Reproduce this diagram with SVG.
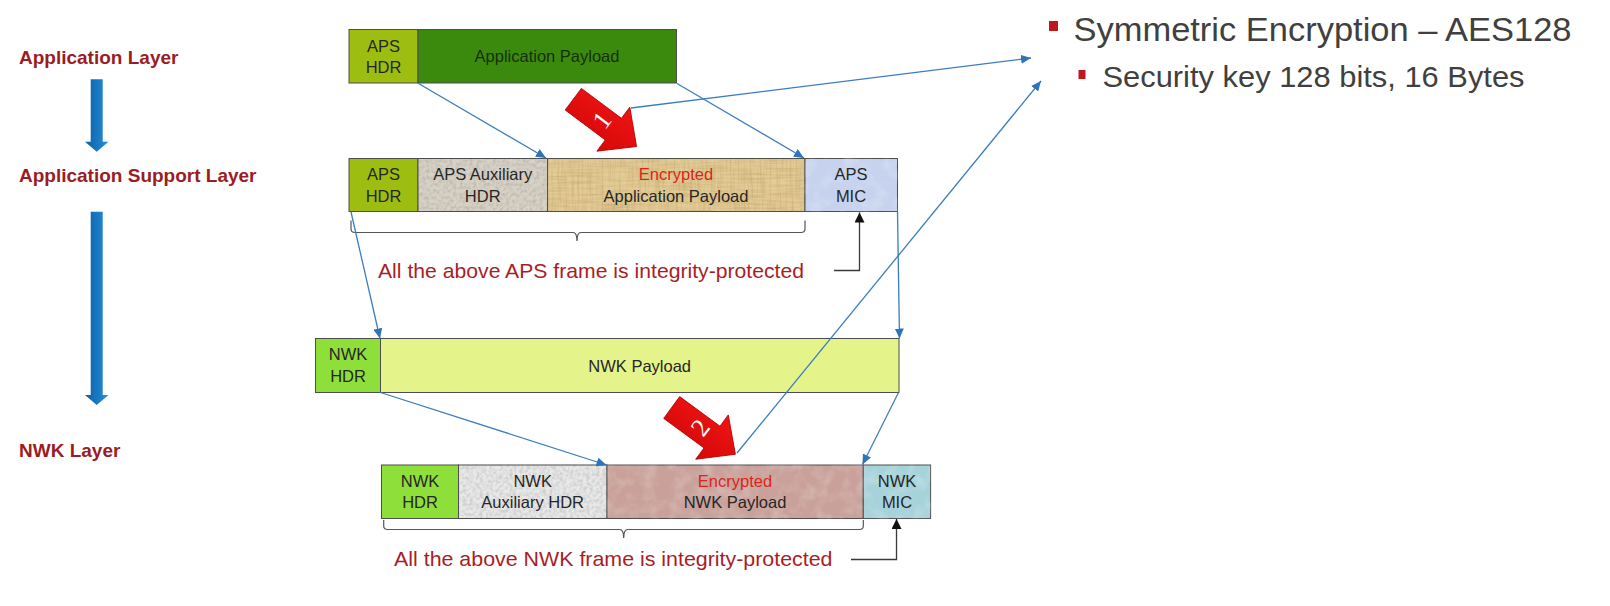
<svg xmlns="http://www.w3.org/2000/svg" width="1610" height="606" viewBox="0 0 1610 606">
<defs>
<style>
.blk{stroke:#4d4d4d;stroke-width:1}
.t{font-family:"Liberation Sans",Arial,sans-serif;font-size:16.5px;fill:#262626;text-anchor:middle}
.enc{fill:#d9261c}
.layer{font-family:"Liberation Sans",Arial,sans-serif;font-size:19px;font-weight:bold;fill:#9b1c22}
.integ{font-family:"Liberation Sans",Arial,sans-serif;font-size:21px;fill:#a81e26}
.bul{font-family:"Liberation Sans",Arial,sans-serif;fill:#404040}
.conn{fill:none;stroke:#3b7dbf;stroke-width:1.3;marker-end:url(#bh)}
.blkarrow{fill:none;stroke:#3a3a3a;stroke-width:1.3;marker-end:url(#kh)}
.brace{fill:none;stroke:#555;stroke-width:1.2}
.redarrow{fill:url(#redg);stroke:#b50000;stroke-width:0.8}
.num{font-family:"Liberation Serif","Times New Roman",serif;font-size:26px;fill:#ffffff;text-anchor:middle}
</style>
<marker id="bh" markerUnits="userSpaceOnUse" markerWidth="11" markerHeight="9" refX="10" refY="4.5" orient="auto">
<path d="M0,0 L10,4.5 L0,9 Z" fill="#2e74b8"/>
</marker>
<marker id="kh" markerUnits="userSpaceOnUse" markerWidth="11" markerHeight="10" refX="10" refY="5" orient="auto">
<path d="M0,0 L10,5 L0,10 Z" fill="#111"/>
</marker>
<linearGradient id="blueg" x1="0" y1="0" x2="1" y2="0">
<stop offset="0" stop-color="#0c5ea6"/>
<stop offset="1" stop-color="#2590da"/>
</linearGradient>
<linearGradient id="redg" x1="0" y1="0" x2="0" y2="1">
<stop offset="0" stop-color="#f01414"/>
<stop offset="1" stop-color="#d40808"/>
</linearGradient>
<filter id="grain" color-interpolation-filters="sRGB">
<feTurbulence type="fractalNoise" baseFrequency="0.3" numOctaves="2" seed="4" result="n"/>
<feColorMatrix in="n" type="matrix" values="0 0 0 0 0.35  0 0 0 0 0.35  0 0 0 0 0.35  0.45 0 0 0 -0.17" result="d"/>
<feComposite in="d" in2="SourceAlpha" operator="in" result="dm"/>
<feMerge><feMergeNode in="SourceGraphic"/><feMergeNode in="dm"/></feMerge>
</filter>
<filter id="fiber" color-interpolation-filters="sRGB">
<feTurbulence type="fractalNoise" baseFrequency="0.5 0.03" numOctaves="2" seed="7" result="n1"/>
<feTurbulence type="fractalNoise" baseFrequency="0.03 0.5" numOctaves="2" seed="9" result="n2"/>
<feColorMatrix in="n1" type="matrix" values="0 0 0 0 0.5  0 0 0 0 0.38  0 0 0 0 0.15  0.38 0 0 0 -0.15" result="d1"/>
<feColorMatrix in="n2" type="matrix" values="0 0 0 0 0.5  0 0 0 0 0.38  0 0 0 0 0.15  0.38 0 0 0 -0.15" result="d2"/>
<feMerge result="d"><feMergeNode in="d1"/><feMergeNode in="d2"/></feMerge>
<feComposite in="d" in2="SourceAlpha" operator="in" result="dm"/>
<feMerge><feMergeNode in="SourceGraphic"/><feMergeNode in="dm"/></feMerge>
</filter>
<filter id="mottle" color-interpolation-filters="sRGB">
<feTurbulence type="fractalNoise" baseFrequency="0.07" numOctaves="3" seed="2" result="n"/>
<feColorMatrix in="n" type="matrix" values="0 0 0 0 1  0 0 0 0 1  0 0 0 0 1  0.5 0 0 0 -0.2" result="d"/>
<feComposite in="d" in2="SourceAlpha" operator="in" result="dm"/>
<feMerge><feMergeNode in="SourceGraphic"/><feMergeNode in="dm"/></feMerge>
</filter>
</defs>
<rect x="0" y="0" width="1610" height="606" fill="#ffffff"/>

<!-- Layer labels -->
<g id="layer-labels">
<text class="layer" x="19" y="63.5">Application Layer</text>
<text class="layer" x="19" y="181.5">Application Support Layer</text>
<text class="layer" x="19" y="456.5">NWK Layer</text>
<path d="M90.7,79.3 H102.7 V141.7 H108.5 L96.7,151.7 L85,141.7 H90.7 Z" fill="url(#blueg)"/>
<path d="M90.7,211.7 H102.7 V395 H108.5 L96.7,405 L85,395 H90.7 Z" fill="url(#blueg)"/>
</g>

<!-- Application layer frame -->
<g id="app-frame">
<rect class="blk" x="349" y="29.5" width="69" height="53.5" fill="#9dbe10"/>
<text class="t" x="383.5" y="51.7">APS</text>
<text class="t" x="383.5" y="73.3">HDR</text>
<rect class="blk" x="418" y="29.5" width="258.5" height="53.5" fill="#3b8a0e"/>
<text class="t" x="547" y="62" style="fill:#17300a">Application Payload</text>
</g>

<!-- APS frame -->
<g id="aps-frame">
<rect class="blk" x="349" y="158.5" width="69" height="53" fill="#9dbe10"/>
<text class="t" x="383.5" y="180.3">APS</text>
<text class="t" x="383.5" y="201.8">HDR</text>
</g>
<g id="aps-aux">
<rect class="blk" x="418" y="158.5" width="129.5" height="53" fill="#d8d2c6" filter="url(#grain)"/>
<text class="t" x="482.7" y="180.3">APS Auxiliary</text>
<text class="t" x="482.7" y="201.8">HDR</text>
</g>
<g id="aps-enc">
<rect class="blk" x="547.5" y="158.5" width="257.5" height="53" fill="#e4cc96" filter="url(#fiber)"/>
<text class="t enc" x="676" y="180.3">Encrypted</text>
<text class="t" x="676" y="201.8">Application Payload</text>
</g>
<g id="aps-mic">
<rect class="blk" x="805" y="158.5" width="92.5" height="53" fill="#c6d2ee" filter="url(#mottle)"/>
<text class="t" x="851" y="180.3">APS</text>
<text class="t" x="851" y="201.8">MIC</text>
</g>
<g id="aps-integrity">
<path class="brace" d="M351,220.5 V229 Q351,232.5 355,232.5 H573 Q577,232.5 577,241 Q577,232.5 581,232.5 H801 Q805,232.5 805,229 V220.5"/>
<text class="integ" x="378" y="278.3" textLength="426" lengthAdjust="spacingAndGlyphs">All the above APS frame is integrity-protected</text>
</g>

<!-- NWK frame -->
<g id="nwk-frame">
<rect class="blk" x="315.5" y="338.5" width="65" height="54" fill="#8fdf3a"/>
<text class="t" x="348" y="360.3">NWK</text>
<text class="t" x="348" y="381.8">HDR</text>
<rect class="blk" x="380.5" y="338.5" width="518.5" height="54" fill="#e5f38b"/>
<text class="t" x="639.7" y="371.5">NWK Payload</text>
</g>

<!-- Secured NWK frame -->
<g id="nwk-hdr">
<rect class="blk" x="381.5" y="465" width="77" height="53.5" fill="#8fdf3a"/>
<text class="t" x="420" y="486.8">NWK</text>
<text class="t" x="420" y="508.3">HDR</text>
</g>
<g id="nwk-aux">
<rect class="blk" x="458.5" y="465" width="148.5" height="53.5" fill="#e8e8e8" filter="url(#grain)"/>
<text class="t" x="532.7" y="486.8">NWK</text>
<text class="t" x="532.7" y="508.3">Auxiliary HDR</text>
</g>
<g id="nwk-enc">
<rect class="blk" x="607" y="465" width="256.3" height="53.5" fill="#c9a09a" filter="url(#mottle)"/>
<text class="t enc" x="735" y="486.8">Encrypted</text>
<text class="t" x="735" y="508.3">NWK Payload</text>
</g>
<g id="nwk-mic">
<rect class="blk" x="863.3" y="465" width="67.3" height="53.5" fill="#a6d2da" filter="url(#mottle)"/>
<text class="t" x="897" y="486.8">NWK</text>
<text class="t" x="897" y="508.3">MIC</text>
</g>
<g id="nwk-integrity">
<path class="brace" d="M383.7,520 V526 Q383.7,529.5 387.7,529.5 H619.7 Q623.7,529.5 623.7,538 Q623.7,529.5 627.7,529.5 H859.3 Q863.3,529.5 863.3,526 V520"/>
<text class="integ" x="394" y="565.5" textLength="438.5" lengthAdjust="spacingAndGlyphs">All the above NWK frame is integrity-protected</text>
</g>

<!-- Red step arrows -->
<g id="step1">
<path class="redarrow" transform="translate(573.3,99.2) rotate(36.8)" d="M0,-13.5 H50 V-27.5 L79,0 L50,27.5 V13.5 H0 Z"/>
<text class="num" transform="translate(601.7,120) rotate(-53)" x="0" y="9">1</text>
</g>
<g id="step2">
<path class="redarrow" transform="translate(671.7,407.5) rotate(36.3)" d="M0,-13.5 H50 V-27.5 L79,0 L50,27.5 V13.5 H0 Z"/>
<text class="num" transform="translate(700,427.5) rotate(-53)" x="0" y="9">2</text>
</g>

<!-- Right bullets -->
<g id="bullets">
<rect x="1049" y="21" width="9" height="10" fill="#c0161c"/>
<text class="bul" x="1073.5" y="41" style="font-size:34px" textLength="498" lengthAdjust="spacingAndGlyphs">Symmetric Encryption – AES128</text>
<rect x="1078.5" y="70" width="7" height="9" fill="#c0161c"/>
<text class="bul" x="1102.5" y="87" style="font-size:29.5px" textLength="422" lengthAdjust="spacingAndGlyphs">Security key 128 bits, 16 Bytes</text>
</g>

<!-- Connectors -->
<g id="connectors">
<line class="conn" x1="418.5" y1="83.5" x2="546" y2="158"/>
<line class="conn" x1="677" y1="83.5" x2="804" y2="158"/>
<line class="conn" x1="631" y1="108" x2="1031" y2="58"/>
<line class="conn" x1="351" y1="212" x2="380" y2="338.5"/>
<line class="conn" x1="897.5" y1="212" x2="899.5" y2="338.5"/>
<line class="conn" x1="380.5" y1="392.5" x2="606.5" y2="465"/>
<line class="conn" x1="898.5" y1="392.5" x2="862.5" y2="464.5"/>
<line class="conn" x1="737" y1="453" x2="1041" y2="81"/>
<polyline class="blkarrow" points="834,270.5 859.5,270.5 859.5,212.5"/>
<polyline class="blkarrow" points="851,559.5 896.5,559.5 896.5,519"/>
</g>
</svg>
